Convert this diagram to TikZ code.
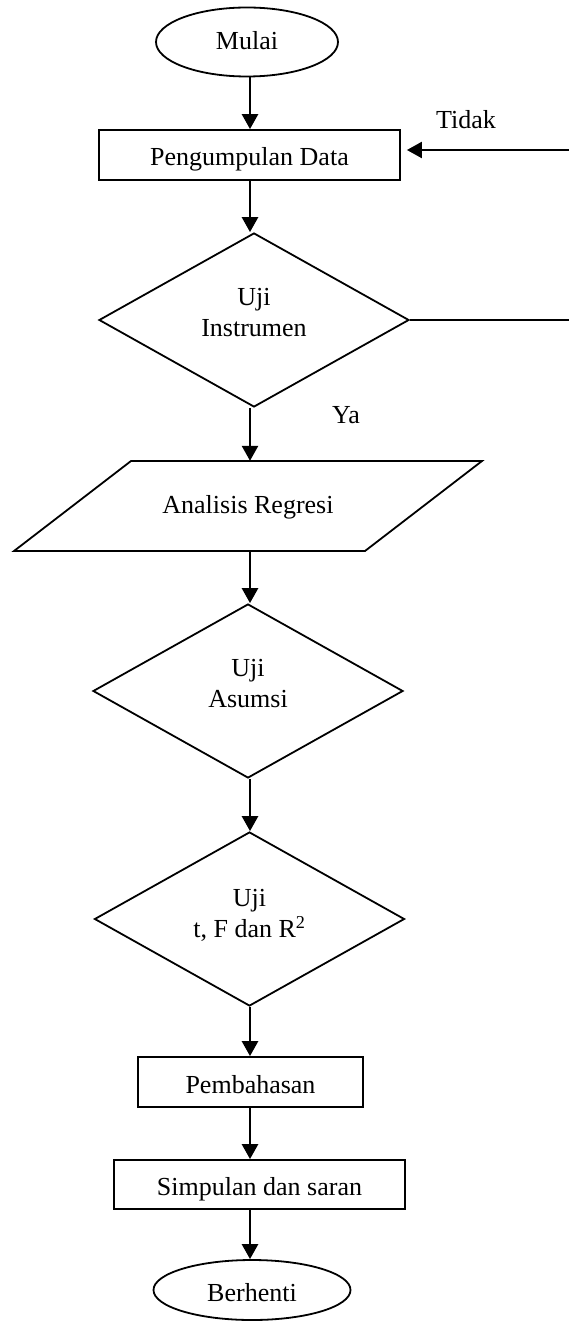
\documentclass[tikz,border=0pt]{standalone}
\usepackage{fontspec}
\setmainfont{Liberation Serif}
\usetikzlibrary{shapes.geometric,arrows.meta,calc}

\begin{document}
\begin{tikzpicture}[x=1pt,y=-1pt,
  every node/.style={font=\fontsize{26}{31}\selectfont, inner sep=0pt},
  shapeline/.style={draw=black, line width=1.8pt},
  flow/.style={line width=2.7pt, -{Triangle[length=15pt,width=16pt]}},
  terminal/.style={shapeline, ellipse},
  procbox/.style={shapeline, rectangle, text height=28pt, text depth=6pt},
  decision/.style={shapeline, diamond, minimum width=310pt, minimum height=174pt},
  note/.style={align=center},
]
\useasboundingbox (0,0) rectangle (569,1321);

% main column of the flow
\coordinate (axis) at (250,0);

\node[terminal, minimum width=182pt, minimum height=69pt, text height=24pt, text depth=8pt] (start) at (247,42) {Mulai};
\node[procbox, minimum width=301pt, minimum height=50pt] (collect) at (249.5,155) {Pengumpulan Data};

\node[decision] (d1) at (254,320) {};
\node[note] (d1t) at (254,313) {Uji\\Instrumen};

% input/output parallelogram
\node[text height=22pt, text depth=8pt, minimum width=234pt, minimum height=90pt] (reg) at (248,506) {Analisis Regresi};
\draw[shapeline, line join=miter]
  ($(reg.center)+(-117,-45)$) -- ($(reg.center)+(234,-45)$) --
  ($(reg.center)+(117,45)$) -- ($(reg.center)+(-234,45)$) -- cycle;

\node[decision] (d2) at (248,691) {};
\node[note] (d2t) at (248,684) {Uji\\Asumsi};

\node[decision] (d3) at (249.5,919) {};
\node[note] (d3t) at (249.5,915) {Uji\\t, F dan R\textsuperscript{2}};

\node[procbox, minimum width=225pt, minimum height=50pt] (disc) at (250.5,1082) {Pembahasan};
\node[procbox, minimum width=291pt, minimum height=49pt] (concl) at (259.5,1184.5) {Simpulan dan saran};
\node[terminal, minimum width=197pt, minimum height=60pt, text height=28pt, text depth=6pt] (stop) at (252,1290) {Berhenti};

% branch labels
\node[anchor=base west] (no) at (436,129) {Tidak};
\node[anchor=base west] (yes) at (332,423) {Ya};

% connectors
\draw[flow] (start.south -| axis) -- (collect.north -| axis);
\draw[flow] (collect.south -| axis) -- (d1.north -| axis);
\draw[flow] (d1.south -| axis) -- (reg.north -| axis);
\draw[flow] (reg.south -| axis) -- (d2.north -| axis);
\draw[flow] (d2.south -| axis) -- (d3.north -| axis);
\draw[flow] (d3.south -| axis) -- (disc.north -| axis);
\draw[flow] (disc.south -| axis) -- (concl.north -| axis);
\draw[flow] (concl.south -| axis) -- (stop.north -| axis);

% "Tidak" loop back to data collection
\coordinate (loopout) at (569,320);
\coordinate (loopin) at (569,150);
\draw[line width=1.9pt] (d1.east) -- (loopout);
\draw[flow, line width=2.3pt, shorten >=6pt] (loopin) -- (collect.east |- loopin);
\end{tikzpicture}
\end{document}
